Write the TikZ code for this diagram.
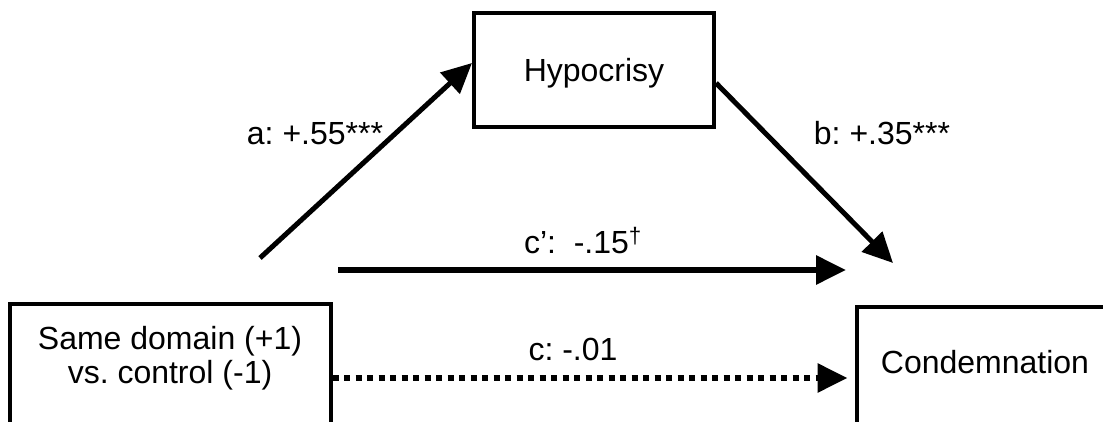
\documentclass[tikz,border=0pt]{standalone}
\usepackage{fontspec}
\setmainfont{Liberation Sans}
\usetikzlibrary{arrows.meta}
\frenchspacing
\begin{document}
\begin{tikzpicture}[x=1pt,y=-1pt,
  box/.style={draw, line width=4pt, inner sep=0pt},
  txt/.style={font=\fontsize{32}{34}\selectfont, align=center, inner sep=0pt},
  arr/.style={line width=5pt, -{Triangle[length=30pt,width=28pt]}},
  thick arr/.style={line width=6pt, -{Triangle[length=30pt,width=28pt]}},
  dotarr/.style={line width=6pt, dash pattern=on 6pt off 5.5pt, -{Triangle[length=30pt,width=28pt]}}]
\useasboundingbox (0,0) rectangle (1103,422);
\clip (0,0) rectangle (1103,422);
% boxes
\node[box, minimum width=240pt, minimum height=114pt] (hyp) at (594,70) {};
\node[box, minimum width=321pt, minimum height=130pt] (src) at (170,369) {};
\node[box, minimum width=263pt, minimum height=127pt] (tgt) at (988,370) {};
% box texts
\node[txt, anchor=base] (hypt) at (594,82) {Hypocrisy};
\node[txt] (srct) at (170,358) {Same domain (+1)\\vs. control (-1)};
\node[txt, anchor=base] (tgtt) at (985,373) {Condemnation};
% connector end points
\coordinate (astart) at (260,258);
\coordinate (bend) at (893,263);
\coordinate (cpstart) at (338,270);
\coordinate (cpend) at (846,270);
% connectors
\draw[arr] (astart) -- ([yshift=7pt]hyp.west);
\draw[arr] ([yshift=-13pt]hyp.east) -- (bend);
\draw[thick arr] (cpstart) -- (cpend);
\draw[dotarr] ([yshift=-9pt]src.east) -- ([xshift=-7pt,yshift=-8pt]tgt.west);
% labels
\node[txt, anchor=base] (la) at (315,145) {a: +.55***};
\node[txt, anchor=base] (lb) at (882,145) {b: +.35***};
\node[txt, anchor=base] (lcp) at (583,253) {c’:\ \ -.15\textsuperscript{†}};
\node[txt, anchor=base] (lc) at (573,360) {c: -.01};
\end{tikzpicture}
\end{document}
